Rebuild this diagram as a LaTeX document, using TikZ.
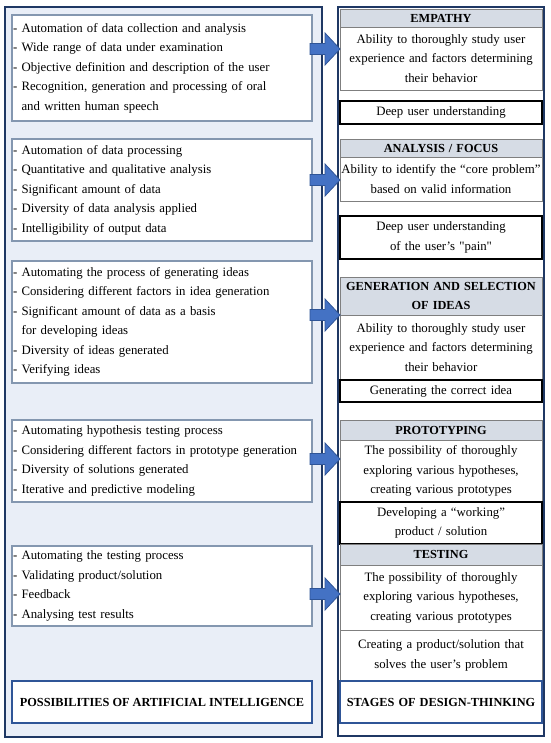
\documentclass[tikz,border=0pt]{standalone}
\usepackage{fontspec}
\setmainfont{Liberation Serif}
\usetikzlibrary{positioning,calc}

\definecolor{framenavy}{HTML}{1F3864}
\definecolor{framefill}{HTML}{E9EEF7}
\definecolor{aiedge}{HTML}{8497B0}
\definecolor{titleblue}{HTML}{2F5597}
\definecolor{headgray}{HTML}{D6DCE5}
\definecolor{descgray}{HTML}{7F7F7F}
\definecolor{arrowblue}{HTML}{4472C4}

\newcommand{\boxfont}{\fontsize{12.8}{19.5}\selectfont}
\newcommand{\headfont}{\fontsize{12.3}{19.5}\selectfont\bfseries}

\tikzset{
  aiframe/.style={draw=framenavy, line width=2.5pt, fill=framefill},
  stageframe/.style={draw=framenavy, line width=2pt, fill=white},
  aibox/.style={draw=aiedge, line width=2pt, fill=white, outer sep=0pt,
    inner xsep=1pt, inner ysep=0pt, text width=298pt, align=left, font=\boxfont},
  aititle/.style={draw=titleblue, line width=2.5pt, fill=white, outer sep=0pt,
    minimum width=300pt, minimum height=42pt, font=\headfont},
  stagebase/.style={outer sep=0pt, inner xsep=1pt, inner ysep=0pt,
    text width=200pt, align=center, font=\boxfont},
  stagehead/.style={stagebase, draw=descgray, line width=0.6pt, fill=headgray, font=\headfont},
  stagedesc/.style={stagebase, draw=descgray, line width=0.8pt, fill=white},
  stageout/.style={stagebase, draw=black, line width=1.8pt, fill=white},
  stagetitle/.style={stagebase, draw=titleblue, line width=1.5pt, fill=white, font=\headfont},
  blockarrow/.style={fill=arrowblue, draw=titleblue, line width=0.8pt,
    to path={let \p1=(\tikztostart), \p2=(\tikztotarget) in
      (\x1,\y1+5.5pt) -- (\x2-15pt,\y1+5.5pt) -- (\x2-15pt,\y1+16pt) -- (\x2,\y1)
      -- (\x2-15pt,\y1-16pt) -- (\x2-15pt,\y1-5.5pt) -- (\x1,\y1-5.5pt) -- cycle}}
}

\begin{document}
\begin{tikzpicture}[x=1pt, y=-1pt]
  \useasboundingbox (0,0) rectangle (550,743);

  % Frames
  \draw[aiframe] (5,7) rectangle (322,737);
  \draw[stageframe] (338,7) rectangle (544,736);

  % Possibilities of AI
  \node[aibox, minimum height=106pt, anchor=north west] (ai1) at (12,15)
    {- Automation of data collection and analysis\\
     - Wide range of data under examination\\
     - Objective definition and description of the user\\
     - Recognition, generation and processing of oral\\
     \hphantom{-} and written human speech};
  \node[aibox, minimum height=102pt, below=18pt of ai1] (ai2)
    {- Automation of data processing\\
     - Quantitative and qualitative analysis\\
     - Significant amount of data\\
     - Diversity of data analysis applied\\
     - Intelligibility of output data};
  \node[aibox, minimum height=122pt, below=20pt of ai2] (ai3)
    {- Automating the process of generating ideas\\
     - Considering different factors in idea generation\\
     - Significant amount of data as a basis\\
     \hphantom{-} for developing ideas\\
     - Diversity of ideas generated\\
     - Verifying ideas};
  \node[aibox, minimum height=82pt, below=37pt of ai3] (ai4)
    {- Automating hypothesis testing process\\
     - Considering different factors in prototype generation\\
     - Diversity of solutions generated\\
     - Iterative and predictive modeling};
  \node[aibox, minimum height=80pt, below=44pt of ai4] (ai5)
    {- Automating the testing process\\
     - Validating product/solution\\
     - Feedback\\
     - Analysing test results};
  \node[aititle, below=55pt of ai5] (aiTitle) {POSSIBILITIES OF ARTIFICIAL INTELLIGENCE};

  % Stages of design thinking
  \node[stagehead, minimum height=18pt, anchor=north west] (empHead) at (340,9) {EMPATHY};
  \node[stagedesc, minimum height=63pt, below=0pt of empHead] (empDesc)
    {Ability to thoroughly study user\\experience and factors determining\\their behavior};
  \node[stageout, minimum height=23pt, below=11pt of empDesc] (empOut) {Deep user understanding};

  \node[stagehead, minimum height=18pt, below=15pt of empOut] (anaHead) {ANALYSIS / FOCUS};
  \node[stagedesc, minimum height=44pt, below=0pt of anaHead] (anaDesc)
    {Ability to identify the “core problem”\\based on valid information};
  \node[stageout, minimum height=43pt, below=15pt of anaDesc] (anaOut)
    {Deep user understanding\\of the user's \textquotedbl pain\textquotedbl};

  \node[stagehead, minimum height=38pt, below=18pt of anaOut] (genHead) {GENERATION AND SELECTION\\OF IDEAS};
  \node[stagedesc, minimum height=65pt, below=0pt of genHead] (genDesc)
    {Ability to thoroughly study user\\experience and factors determining\\their behavior};
  \node[stageout, minimum height=22pt, below=0pt of genDesc] (genOut) {Generating the correct idea};

  \node[stagehead, minimum height=20pt, below=18pt of genOut] (proHead) {PROTOTYPING};
  \node[stagedesc, minimum height=62pt, below=0pt of proHead] (proDesc)
    {The possibility of thoroughly\\exploring various hypotheses,\\creating various prototypes};
  \node[stageout, minimum height=42pt, below=0pt of proDesc] (proOut)
    {Developing a “working”\\product / solution};

  \node[stagehead, minimum height=21pt, below=0pt of proOut] (tesHead) {TESTING};
  \node[stagedesc, minimum height=65pt, below=0pt of tesHead] (tesDesc)
    {The possibility of thoroughly\\exploring various hypotheses,\\creating various prototypes};
  \node[stagedesc, minimum height=51pt, below=0pt of tesDesc] (tesOut)
    {Creating a product/solution that\\solves the user’s problem};
  \node[stagetitle, minimum height=42pt, below=0pt of tesOut] (stTitle) {STAGES OF DESIGN-THINKING};

  % Arrows
  \coordinate (ar1) at (310,49);
  \coordinate (ar2) at (310,180);
  \coordinate (ar3) at (310,315);
  \coordinate (ar4) at (310,459);
  \coordinate (ar5) at (310,594);
  \path[blockarrow] (ar1) to (ar1 -| empDesc.west);
  \path[blockarrow] (ar2) to (ar2 -| anaDesc.west);
  \path[blockarrow] (ar3) to (ar3 -| genDesc.west);
  \path[blockarrow] (ar4) to (ar4 -| proDesc.west);
  \path[blockarrow] (ar5) to (ar5 -| tesDesc.west);
\end{tikzpicture}
\end{document}
